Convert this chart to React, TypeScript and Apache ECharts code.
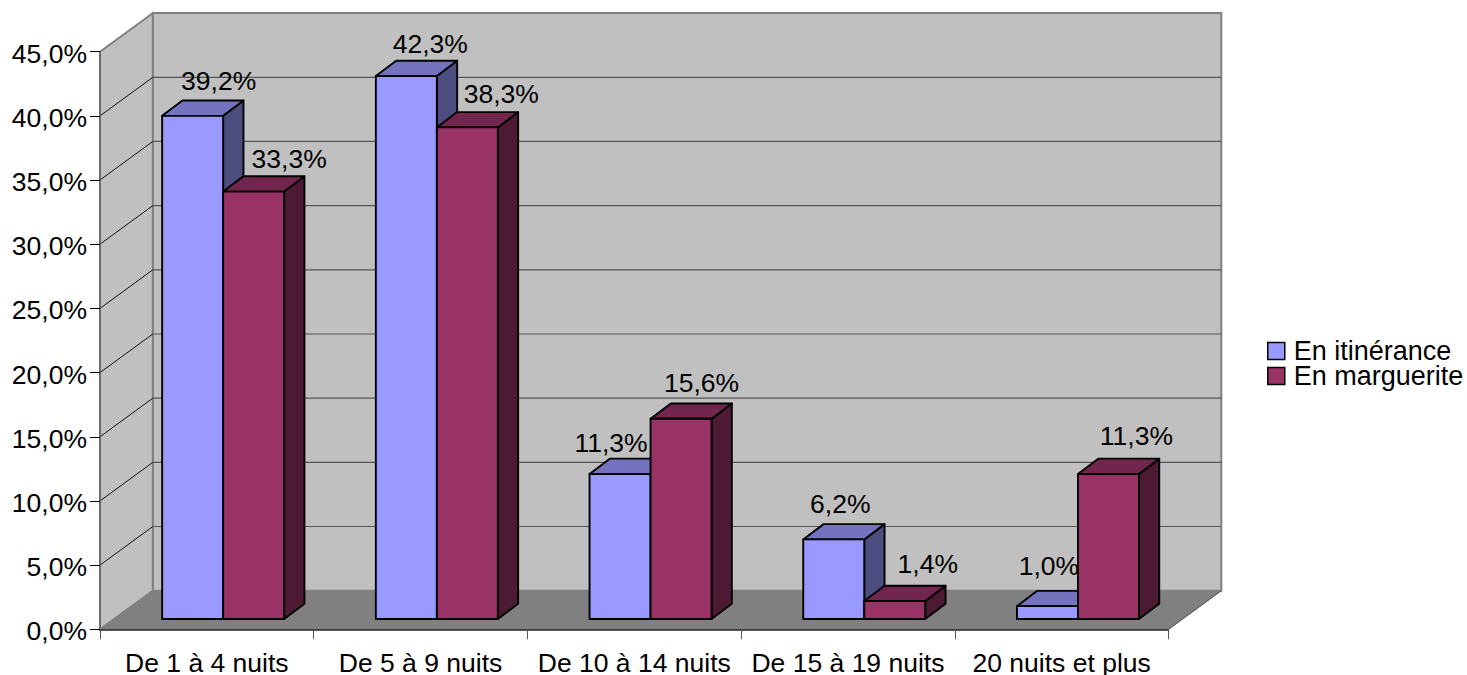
import React, { useEffect, useRef } from "react";
import * as echarts from "echarts";

const categories = ["De 1 à 4 nuits", "De 5 à 9 nuits", "De 10 à 14 nuits", "De 15 à 19 nuits", "20 nuits et plus"];
const itinerance = [39.2, 42.3, 11.3, 6.2, 1.0];
const marguerite = [33.3, 38.3, 15.6, 1.4, 11.3];
const yTicks = [0, 5, 10, 15, 20, 25, 30, 35, 40, 45];

// Label nudges relative to the front-top-centre of each bar (the original's 3D label placement)
const nudgeBlue = [[26, -35], [24, -32], [-9, -31], [6.5, -35], [1.5, -40]];
const nudgeRed = [[35.5, -33], [34, -33], [20.5, -36], [33, -37], [28, -38]];

const FONT = '"Liberation Sans", Arial, sans-serif';
const FS = 26.5;
const WALL_DX = 52.8;
const WALL_DY = -38.6;
const BAR_W = 61;
const BAR_DX = 20.3;
const BAR_DY = -15.3;
const BASE_DX = 16.3;
const BASE_DY = -10.3;

const fmt = (v: number) => v.toFixed(1).replace(".", ",") + "%";

function wallsItem(params: any, api: any) {
  const r = params.coordSys;
  const l = r.x, t = r.y, w = r.width, h = r.height;
  const b = t + h;
  const children: any[] = [
    { type: "rect", shape: { x: l + WALL_DX, y: t + WALL_DY, width: w, height: h }, style: { fill: "#c0c0c0", stroke: "#808080", lineWidth: 2 } },
    { type: "polygon", shape: { points: [[l, t], [l + WALL_DX, t + WALL_DY], [l + WALL_DX, b + WALL_DY], [l, b]] }, style: { fill: "#c0c0c0", stroke: "#808080", lineWidth: 2 } },
    { type: "polygon", shape: { points: [[l, b], [l + WALL_DX, b + WALL_DY], [l + w + WALL_DX, b + WALL_DY], [l + w, b]] }, style: { fill: "#808080", stroke: "#808080", lineWidth: 1 } },
    { type: "line", shape: { x1: l + w, y1: b, x2: l + w + WALL_DX, y2: b + WALL_DY }, style: { stroke: "#555", lineWidth: 1 } },
  ];
  yTicks.forEach((tv) => {
    if (tv === 0 || tv === 45) return;
    const y = api.coord([0, tv])[1];
    children.push({ type: "line", shape: { x1: l + WALL_DX, y1: y + WALL_DY, x2: l + w + WALL_DX, y2: y + WALL_DY }, style: { stroke: "#555", lineWidth: 1.2 } });
    children.push({ type: "line", shape: { x1: l, y1: y, x2: l + WALL_DX, y2: y + WALL_DY }, style: { stroke: "#111", lineWidth: 1 } });
  });
  return { type: "group", children };
}

function barRenderer(side: number, front: string, top: string, right: string, nudge: number[][]) {
  return (_params: any, api: any) => {
    const idx = api.value(0);
    const val = api.value(1);
    const c0 = api.coord([idx, 0]);
    const c1 = api.coord([idx, val]);
    const x0 = c0[0] + BASE_DX + (side < 0 ? -BAR_W : 0);
    const x1 = x0 + BAR_W;
    const yb = c0[1] + BASE_DY;
    const yt = c1[1] + BASE_DY;
    const line = { stroke: "#000", lineWidth: 1.9, lineJoin: "round" };
    const n = nudge[idx];
    return {
      type: "group",
      children: [
        { type: "polygon", shape: { points: [[x1, yb], [x1 + BAR_DX, yb + BAR_DY], [x1 + BAR_DX, yt + BAR_DY], [x1, yt]] }, style: { fill: right, ...line } },
        { type: "polygon", shape: { points: [[x0, yt], [x0 + BAR_DX, yt + BAR_DY], [x1 + BAR_DX, yt + BAR_DY], [x1, yt]] }, style: { fill: top, ...line } },
        { type: "rect", shape: { x: x0, y: yt, width: BAR_W, height: yb - yt }, style: { fill: front, ...line } },
        { type: "text", style: { text: fmt(val), x: (x0 + x1) / 2 + n[0], y: yt + n[1], fill: "#000", fontSize: FS, fontFamily: FONT, align: "center", verticalAlign: "middle" } },
      ],
    };
  };
}

export default function App() {
  const ref = useRef<HTMLDivElement>(null);
  useEffect(() => {
    const chart = echarts.init(ref.current!, undefined, { renderer: "svg" });
    chart.setOption({
      animation: false,
      backgroundColor: "#fff",
      grid: { left: 100, top: 51.7, width: 1068.5, height: 577.6, outerBoundsMode: "none" },
      legend: {
        orient: "vertical",
        left: 1267,
        top: 337.5,
        padding: 0,
        itemWidth: 17,
        itemHeight: 17,
        itemGap: -2,
        selectedMode: false,
        icon: "rect",
        data: ["En itinérance", "En marguerite"],
        itemStyle: { borderColor: "#000", borderWidth: 1.5 },
        textStyle: { fontSize: 27, fontFamily: FONT, color: "#000", lineHeight: 24, padding: [0, 0, 0, 4] },
      },
      xAxis: {
        type: "category",
        data: categories,
        z: 5,
        axisLine: { lineStyle: { color: "#222", width: 1.5 } },
        axisTick: { show: true, length: 10, alignWithLabel: false, lineStyle: { color: "#555", width: 1 } },
        axisLabel: { fontSize: FS, fontFamily: FONT, color: "#000", margin: 23, lineHeight: 22, interval: 0 },
        splitLine: { show: false },
      },
      yAxis: {
        type: "value",
        min: 0,
        max: 45,
        interval: 5,
        z: 5,
        axisLine: { show: true, lineStyle: { color: "#666", width: 1.5 } },
        axisTick: { show: true, length: 10, lineStyle: { color: "#000", width: 1 } },
        axisLabel: {
          margin: 13,
          formatter: (v: number) => `{t|${fmt(v)}}`,
          rich: { t: { fontSize: FS, fontFamily: FONT, color: "#000", padding: [4, 0, 0, 0] } },
        },
        splitLine: { show: false },
      },
      series: [
        { type: "custom", name: "walls", coordinateSystem: "cartesian2d", clip: false, z: 1, silent: true, data: [[0, 0]], renderItem: wallsItem, encode: { x: 0, y: 1 } },
        {
          type: "custom", name: "En itinérance", coordinateSystem: "cartesian2d", clip: false, z: 2,
          itemStyle: { color: "#9999ff" },
          data: itinerance.map((v, i) => [i, v]), encode: { x: 0, y: 1 },
          renderItem: barRenderer(-1, "#9999ff", "#7373bf", "#4d4d80", nudgeBlue),
        },
        {
          type: "custom", name: "En marguerite", coordinateSystem: "cartesian2d", clip: false, z: 3,
          itemStyle: { color: "#993366" },
          data: marguerite.map((v, i) => [i, v]), encode: { x: 0, y: 1 },
          renderItem: barRenderer(1, "#993366", "#73264d", "#4d1a33", nudgeRed),
        },
      ],
    });
    return () => chart.dispose();
  }, []);
  return <div ref={ref} style={{ position: "fixed", left: 0, top: 0, width: 1467, height: 675 }} />;
}
